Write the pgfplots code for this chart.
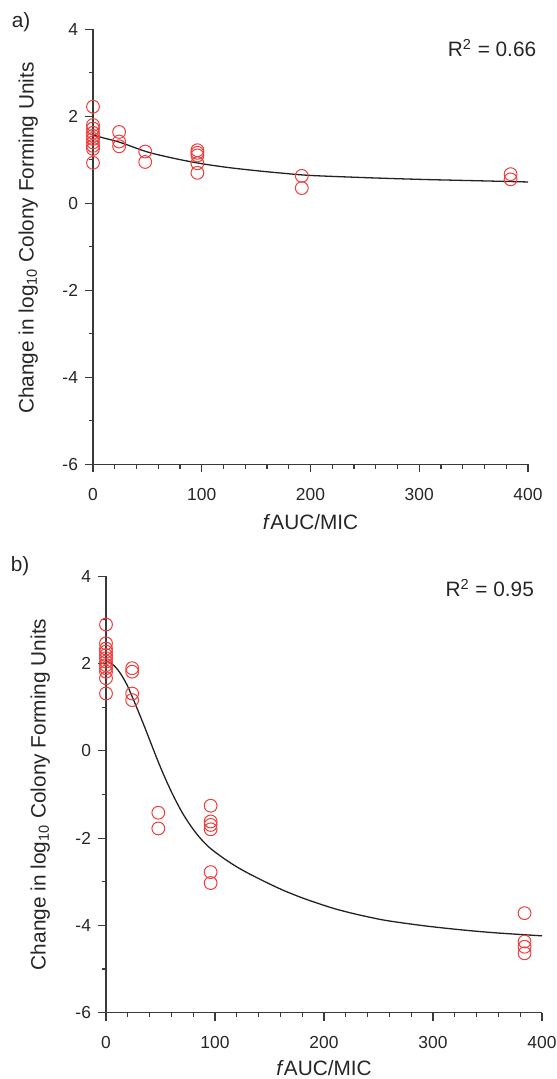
\documentclass[border=0pt]{standalone}
\usepackage{fontspec}
\setmainfont{Liberation Sans}
\usepackage{pgfplots}
\pgfplotsset{compat=1.18}
\definecolor{axgray}{HTML}{3A3A3A}
\definecolor{ptred}{HTML}{F03C3C}
\definecolor{fitblk}{HTML}{222222}

\pgfplotsset{
  panel/.style={
    scale only axis,
    axis x line=bottom, axis y line=left,
    axis line style={-, axgray, line width=0.55pt},
    every tick/.style={axgray, line width=0.55pt},
    tick align=outside,
    major tick length=4pt, minor tick length=2.2pt,
    xmin=0, xmax=400, ymin=-6, ymax=4,
    xtick={0,100,...,400}, minor xtick={20,40,60,80,120,140,160,180,220,240,260,280,320,340,360,380},
    ytick={-6,-4,...,4}, minor ytick={-5,-3,-1,1,3},
    /pgf/number format/assume math mode=true,
    tick label style={font=\fontsize{8.7}{10}\selectfont, text=black!85},
    xticklabel style={yshift=-4.5pt},
    label style={font=\fontsize{10.4}{12}\selectfont, text=black!85},
    xlabel={\textit{f}AUC/MIC},
    ylabel={Change in log\textsubscript{10} Colony Forming Units},
    clip=false,
  },
  pts/.style={only marks, mark=o, mark size=3.2pt, ptred, mark options={line width=0.5pt}},
  fit/.style={no marks, smooth, fitblk, line width=0.65pt},
}

\begin{document}
\begin{tikzpicture}
\path[use as bounding box] (0,0) rectangle (278pt,539.5pt);

\node[font=\fontsize{10.4}{12}\selectfont, text=black!85] at (10.5pt,528.5pt) {a)};
\node[font=\fontsize{10.4}{12}\selectfont, text=black!85] at (10pt,256.5pt) {b)};

% panel a
\begin{axis}[panel,
  at={(46.5pt,307.35pt)}, anchor=south west,
  width=217.5pt, height=217.5pt,
  xlabel style={at={(axis description cs:0.5,-0.133)}, anchor=center},
  ylabel style={at={(axis description cs:-0.149,0.52)}, anchor=center, rotate=0},
]
\addplot[pts] coordinates {
(0,2.22)(0,1.80)(0,1.72)(0,1.62)(0,1.55)(0,1.48)(0,1.40)(0,1.32)(0,1.25)(0,0.93)
(24,1.64)(24,1.42)(24,1.31)
(48,1.19)(48,0.95)
(96,1.22)(96,1.16)(96,1.10)(96,0.92)(96,0.70)
(192,0.63)(192,0.35)
(384,0.67)(384,0.55)
};
\addplot[fit] coordinates {
(0,1.57)(10,1.50)(25,1.40)(50,1.18)(75,1.03)(100,0.91)(125,0.82)(150,0.75)
(175,0.69)(200,0.64)(250,0.59)(300,0.55)(350,0.52)(400,0.49)
};
\node[anchor=east, font=\fontsize{10.4}{12}\selectfont, text=black!85] at (axis cs:414,3.57) {R\textsuperscript{2} = 0.66};
\end{axis}

% panel b
\begin{axis}[panel,
  at={(53pt,33.15pt)}, anchor=south west,
  width=218pt, height=218.3pt,
  xlabel style={at={(axis description cs:0.5,-0.127)}, anchor=center},
  ylabel style={at={(axis description cs:-0.151,0.5)}, anchor=center, rotate=0},
]
\addplot[pts] coordinates {
(0,2.89)(0,2.46)(0,2.34)(0,2.27)(0,2.19)(0,2.12)(0,2.04)(0,1.96)(0,1.89)(0,1.81)(0,1.66)(0,1.31)
(24,1.89)(24,1.81)(24,1.31)(24,1.16)
(48,-1.42)(48,-1.78)
(96,-1.26)(96,-1.62)(96,-1.70)(96,-1.80)(96,-2.78)(96,-3.03)
(384,-3.72)(384,-4.37)(384,-4.49)(384,-4.64)
};
\addplot[fit] coordinates {
(0,2.06)(5,2.00)(10,1.88)(15,1.70)(20,1.47)(25,1.18)(30,0.88)(35,0.57)(40,0.25)
(45,-0.07)(50,-0.38)(55,-0.67)(60,-0.94)(65,-1.19)(70,-1.42)(75,-1.62)(80,-1.80)
(85,-1.96)(90,-2.10)(95,-2.22)(100,-2.32)(110,-2.50)(120,-2.66)(130,-2.80)
(145,-2.99)(162,-3.19)(180,-3.37)(195,-3.50)(210,-3.62)(227,-3.73)(245,-3.83)
(260,-3.90)(292,-4.01)(325,-4.10)(357,-4.17)(400,-4.24)
};
\node[anchor=east, font=\fontsize{10.4}{12}\selectfont, text=black!85] at (axis cs:399,3.73) {R\textsuperscript{2} = 0.95};
\end{axis}
\end{tikzpicture}
\end{document}
